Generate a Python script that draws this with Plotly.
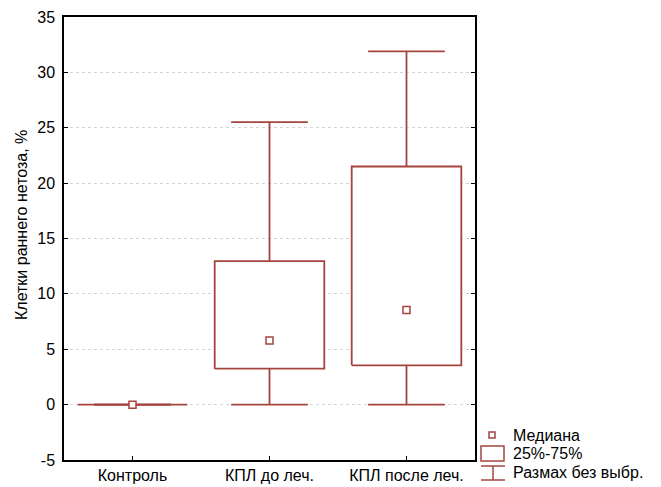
import plotly.graph_objects as go

categories = ["Контроль", "КПЛ до леч.", "КПЛ после леч."]
mins = [0.0, 0.0, 0.0]
q1 = [0.0, 3.25, 3.55]
medians = [0.0, 5.8, 8.55]
q3 = [0.0, 12.95, 21.5]
maxs = [0.0, 25.5, 31.9]
y_ticks = [-5, 0, 5, 10, 15, 20, 25, 30, 35]
y_ticktext = ["-5", "0", "5", "10", "15", "20", "25", "30", "35"]
legend_labels = ["Медиана", "25%-75%", "Размах без выбр."]
y_title = "Клетки раннего нетоза, %"

COLOR = "#A5443F"
BOX_HALF = 0.40
CAP_HALF = 0.28
FONT = "Liberation Sans, Arial, sans-serif"
FS = 16

W, H = 661, 487
L, R, T, B = 64, 186, 17, 27
PW, PH = W - L - R, H - T - B

fig = go.Figure()

for i, cat in enumerate(categories):
    fig.add_trace(go.Scatter(x=[i, i, None, i, i], y=[q3[i], maxs[i], None, mins[i], q1[i]],
                             mode="lines", line=dict(color=COLOR, width=1.8),
                             showlegend=False, hoverinfo="skip"))
    fig.add_trace(go.Scatter(x=[i - CAP_HALF, i + CAP_HALF, None, i - CAP_HALF, i + CAP_HALF],
                             y=[maxs[i], maxs[i], None, mins[i], mins[i]],
                             mode="lines", line=dict(color=COLOR, width=1.8),
                             showlegend=False, hoverinfo="skip"))
    fig.add_trace(go.Scatter(x=[i - BOX_HALF, i + BOX_HALF, i + BOX_HALF, i - BOX_HALF, i - BOX_HALF],
                             y=[q1[i], q1[i], q3[i], q3[i], q1[i]],
                             mode="lines", fill="toself", fillcolor="white",
                             line=dict(color=COLOR, width=1.8),
                             showlegend=False, hoverinfo="skip"))

fig.add_trace(go.Scatter(x=list(range(len(categories))), y=medians, mode="markers",
                         marker=dict(symbol="square", size=7, color="white",
                                     line=dict(color=COLOR, width=1.5)),
                         showlegend=False, hoverinfo="skip"))

fig.update_xaxes(range=[-0.5, 2.5], tickvals=list(range(len(categories))), ticktext=categories,
                 showgrid=False, zeroline=False, showline=True, linecolor="black", linewidth=1.5,
                 mirror=True, ticks="inside", ticklen=4, tickcolor="black", automargin=False,
                 tickfont=dict(family=FONT, size=FS, color="black"))
fig.update_yaxes(range=[-5, 35], tickvals=y_ticks, ticktext=y_ticktext, showgrid=True,
                 gridcolor="#d4d4d4", griddash="dot", gridwidth=1, zeroline=False, showline=True,
                 linecolor="black", linewidth=1.5, mirror="ticks", ticks="inside", ticklen=4,
                 tickcolor="black", automargin=False, ticklabelstandoff=4,
                 tickfont=dict(family=FONT, size=FS, color="black"))

def px_x(p):
    return (p - L) / PW

def px_y(p):
    return 1 - (p - T) / PH

fig.add_annotation(text=y_title, xref="paper", yref="paper", x=px_x(21), y=px_y(225),
                   xanchor="center", yanchor="middle", textangle=-90, showarrow=False,
                   font=dict(family=FONT, size=FS, color="black"))

shapes = []
shapes.append(dict(type="rect", xref="paper", yref="paper", x0=px_x(489), x1=px_x(495),
                   y0=px_y(438), y1=px_y(432), line=dict(color=COLOR, width=1.5), fillcolor="white"))
shapes.append(dict(type="rect", xref="paper", yref="paper", x0=px_x(481), x1=px_x(504),
                   y0=px_y(461), y1=px_y(446), line=dict(color=COLOR, width=1.5), fillcolor="white"))
for (xa, ya, xb, yb) in [(481, 466, 505, 466), (481, 480, 505, 480), (493, 466, 493, 480)]:
    shapes.append(dict(type="line", xref="paper", yref="paper", x0=px_x(xa), x1=px_x(xb),
                       y0=px_y(ya), y1=px_y(yb), line=dict(color=COLOR, width=1.5)))
fig.update_layout(shapes=shapes)

for lbl, yy in zip(legend_labels, [435, 453, 472]):
    fig.add_annotation(text=lbl, xref="paper", yref="paper", x=px_x(511), y=px_y(yy),
                       xanchor="left", yanchor="middle", showarrow=False,
                       font=dict(family=FONT, size=FS, color="black"))

fig.update_layout(width=W, height=H, margin=dict(l=L, r=R, t=T, b=B),
                  plot_bgcolor="white", paper_bgcolor="white", showlegend=False)

fig.write_html("out.html", config={"displayModeBar": False},
               post_script="document.body.style.margin='0';document.body.style.padding='0';"
                           "document.body.style.overflow='hidden';")
